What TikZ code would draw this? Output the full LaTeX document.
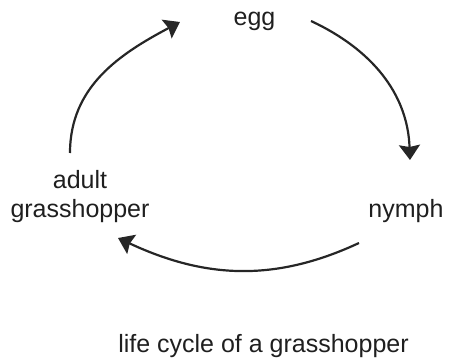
\documentclass[tikz,border=0pt]{standalone}
\usepackage{fontspec}
\setmainfont{Liberation Sans}
\usetikzlibrary{arrows.meta}
\begin{document}
\begin{tikzpicture}[x=1pt,y=1pt,
  label/.style={inner sep=0pt, font=\fontsize{25}{29}\selectfont, text=black!88},
  cyclearrow/.style={line width=2.2pt, draw=black!85,
    -{Stealth[length=15pt,width=21pt,inset=2pt]}}]
\useasboundingbox (0,0) rectangle (451,360);
% stage labels
\node[label, anchor=base] (egg) at (254.5,335) {egg};
\node[label, anchor=base] (nymph) at (406,143) {nymph};
\node[label, anchor=base, align=center] (adult) at (80,143) {adult\\grasshopper};
\node[label, anchor=base] (caption) at (263.5,8) {life cycle of a grasshopper};
% arrow end points around the cycle
\coordinate (a1s) at (70,207);
\coordinate (a1e) at (180,338);
\coordinate (a2s) at (311,339);
\coordinate (a2e) at (410,200);
\coordinate (a3s) at (359,117);
\coordinate (a3e) at (118,122);
% arrows of the cycle
\draw[cyclearrow] (a1s) to[out=90,in=208] (a1e);
\draw[cyclearrow] (a2s) to[out=-25,in=92] (a2e);
\draw[cyclearrow] (a3s) to[out=205,in=-25] (a3e);
\end{tikzpicture}
\end{document}
